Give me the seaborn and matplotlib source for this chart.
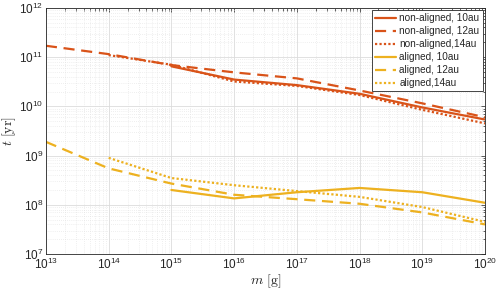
import numpy as np
import pandas as pd
import matplotlib
matplotlib.use("Agg")
import matplotlib.pyplot as plt
import seaborn as sns
from matplotlib.ticker import LogLocator, NullFormatter

mass = [1e13, 1e14, 1e15, 1e16, 1e17, 1e18, 1e19, 1e20]
na_10 = [np.nan, np.nan, 6.5e10, 3.5e10, 2.7e10, 1.8e10, 9.5e9, 5.4e9]
na_12 = [1.7e11, 1.15e11, 6.9e10, 4.9e10, 3.7e10, 2.1e10, 1.15e10, 6.0e9]
na_14 = [np.nan, 1.1e11, 7.0e10, 3.2e10, 2.6e10, 1.7e10, 8.5e9, 4.5e9]
al_10 = [np.nan, np.nan, 2.0e8, 1.35e8, 1.8e8, 2.2e8, 1.8e8, 1.1e8]
al_12 = [1.9e9, 5.5e8, 2.7e8, 1.6e8, 1.3e8, 1.05e8, 7.0e7, 4.0e7]
al_14 = [np.nan, 9.0e8, 3.5e8, 2.5e8, 1.9e8, 1.45e8, 9.0e7, 4.5e7]

labels = ["non-aligned, 10au", "non-aligned, 12au", "non-aligned,14au",
          "aligned, 10au", "aligned, 12au", "aligned,14au"]
series = [na_10, na_12, na_14, al_10, al_12, al_14]
c1, c2 = "#D95319", "#EDB120"
colors = [c1, c1, c1, c2, c2, c2]
styles = ["-", (0, (5, 3)), (0, (1, 1)), "-", (0, (5, 3)), (0, (1, 1))]

sns.set_style("white")
plt.rcParams["font.family"] = ["Liberation Sans", "DejaVu Sans"]
plt.rcParams["mathtext.fontset"] = "cm"

fig = plt.figure(figsize=(4.99, 2.92), dpi=100)
ax = fig.add_axes([0.092, 0.130, 0.880, 0.843])

for vals, lab, col, ls in zip(series, labels, colors, styles):
    df = pd.DataFrame({"m": mass, "t": vals}).dropna()
    sns.lineplot(data=df, x="m", y="t", ax=ax, color=col, linewidth=1.6,
                 label=lab, linestyle=ls)

ax.set_xscale("log")
ax.set_yscale("log")
ax.set_xlim(1e13, 1e20)
ax.set_ylim(1e7, 1e12)
ax.xaxis.set_major_locator(LogLocator(base=10, numticks=20))
ax.yaxis.set_major_locator(LogLocator(base=10, numticks=20))
ax.xaxis.set_minor_locator(LogLocator(base=10, subs=np.arange(2, 10), numticks=100))
ax.yaxis.set_minor_locator(LogLocator(base=10, subs=np.arange(2, 10), numticks=100))
ax.xaxis.set_minor_formatter(NullFormatter())
ax.yaxis.set_minor_formatter(NullFormatter())

ax.grid(True, which="major", color="#dcdcdc", linewidth=0.6, linestyle="-")
ax.grid(True, which="minor", color="#e0e0e0", linewidth=0.5, linestyle=(0, (1, 2)))
ax.set_axisbelow(True)

ax.tick_params(axis="both", which="both", direction="in", top=True, right=True,
               labelsize=8.5, colors="#262626", length=3, width=0.5, pad=2)
ax.tick_params(axis="both", which="minor", length=1.8)
for s in ax.spines.values():
    s.set_color("#262626")
    s.set_linewidth(0.6)

ax.set_xlabel(r"$m\ [\mathrm{g}]$", fontsize=10, labelpad=0)
ax.set_ylabel(r"$t\ [\mathrm{yr}]$", fontsize=10, labelpad=1)

leg = ax.legend(loc="upper right", fontsize=7.2, frameon=True, fancybox=False,
                borderpad=0.3, labelspacing=0.3, handlelength=2.1,
                handletextpad=0.3, borderaxespad=0.25)
leg.get_frame().set_edgecolor("#262626")
leg.get_frame().set_linewidth(0.6)
leg.get_frame().set_alpha(1)

fig.savefig("out.png", dpi=100)
